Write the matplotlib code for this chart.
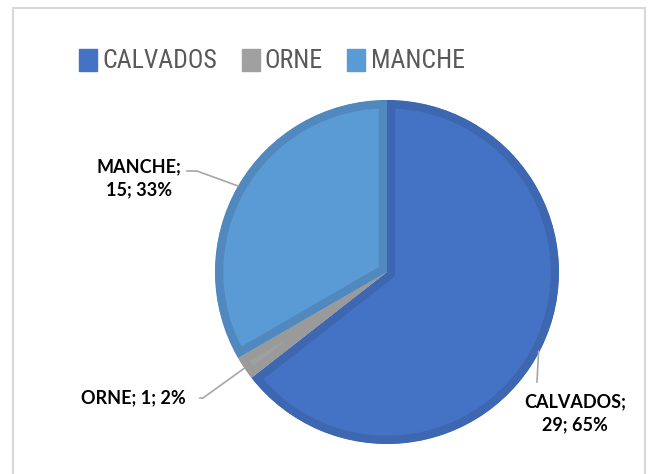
import matplotlib
matplotlib.use("Agg")
import matplotlib.pyplot as plt
from matplotlib import font_manager
from matplotlib.patches import Rectangle
import numpy as np

# data
categories = ["CALVADOS", "ORNE", "MANCHE"]
counts = [29, 1, 15]
percents = [65, 2, 33]

fill_colors = ["#4472C4", "#A0A0A0", "#5B9BD5"]
edge_colors = ["#3E67B1", "#9A9A9A", "#5189BF"]


def pick_font(names):
    for n in names:
        try:
            font_manager.findfont(n, fallback_to_default=False)
            return n
        except Exception:
            pass
    return "DejaVu Sans"


narrow = pick_font(["Roboto Condensed", "Liberation Sans Narrow", "Roboto"])
label_font = pick_font(["Lato", "Open Sans"])

W, H = 652, 474
fig = plt.figure(figsize=(W / 100, H / 100), dpi=100)
ax = fig.add_axes([0, 0, 1, 1])

cx, cy, r = 387, H - 272, 172
wedges, _ = ax.pie(counts, colors=fill_colors, startangle=90, counterclock=False,
                   center=(cx, cy), radius=r, frame=True)
# darker inner band along the edges of each slice
for w, ec in zip(wedges, edge_colors):
    w.set_edgecolor(ec)
    w.set_linewidth(12)
    w.set_joinstyle("round")
    w.set_clip_path(w)
    w.set_clip_on(True)

ax.set_xlim(0, W)
ax.set_ylim(0, H)
ax.set_aspect("equal")
ax.axis("off")

# chart frame
ax.add_patch(Rectangle((13, -5), 632, H - 8 + 5, fill=False, edgecolor="#D9D9D9", lw=1.5))

# data labels with leader lines
text_pos = [(575, H - 413), (133, H - 398), (139, H - 178)]
elbows = [(537, H - 382), (203, H - 398), (197, H - 171)]
for i, w in enumerate(wedges):
    ang = np.deg2rad((w.theta1 + w.theta2) / 2)
    px, py = cx + r * np.cos(ang), cy + r * np.sin(ang)
    ex, ey = elbows[i]
    if i == 0:
        xs, ys = [px - 3, ex], [py - 4, ey]
    elif i == 1:
        xs, ys = [px, ex, ex - 3], [py, ey, ey]
    else:
        xs, ys = [px, ex, ex - 10], [py, ey, ey]
    ax.plot(xs, ys, color="#A6A6A6", lw=1.2)
    if categories[i] == "ORNE":
        txt = f"{categories[i]}; {counts[i]}; {percents[i]}%"
    else:
        txt = f"{categories[i]};\n{counts[i]}; {percents[i]}%"
    ax.text(*text_pos[i], txt, ha="center", va="center", fontsize=13,
            fontweight="bold", family=label_font, color="#000000", linespacing=1.45)

# legend
handles = [Rectangle((0, 0), 1, 1, color=c) for c in fill_colors]
leg = fig.legend(handles, categories, loc="center", bbox_to_anchor=(272 / W, 1 - 61 / H),
                 ncol=3, frameon=False, handlelength=0.7, handleheight=0.95,
                 handletextpad=0.2, columnspacing=0.95,
                 prop={"family": narrow, "size": 18.5})
for t in leg.get_texts():
    t.set_color("#595959")

fig.savefig("out.png", dpi=100)
